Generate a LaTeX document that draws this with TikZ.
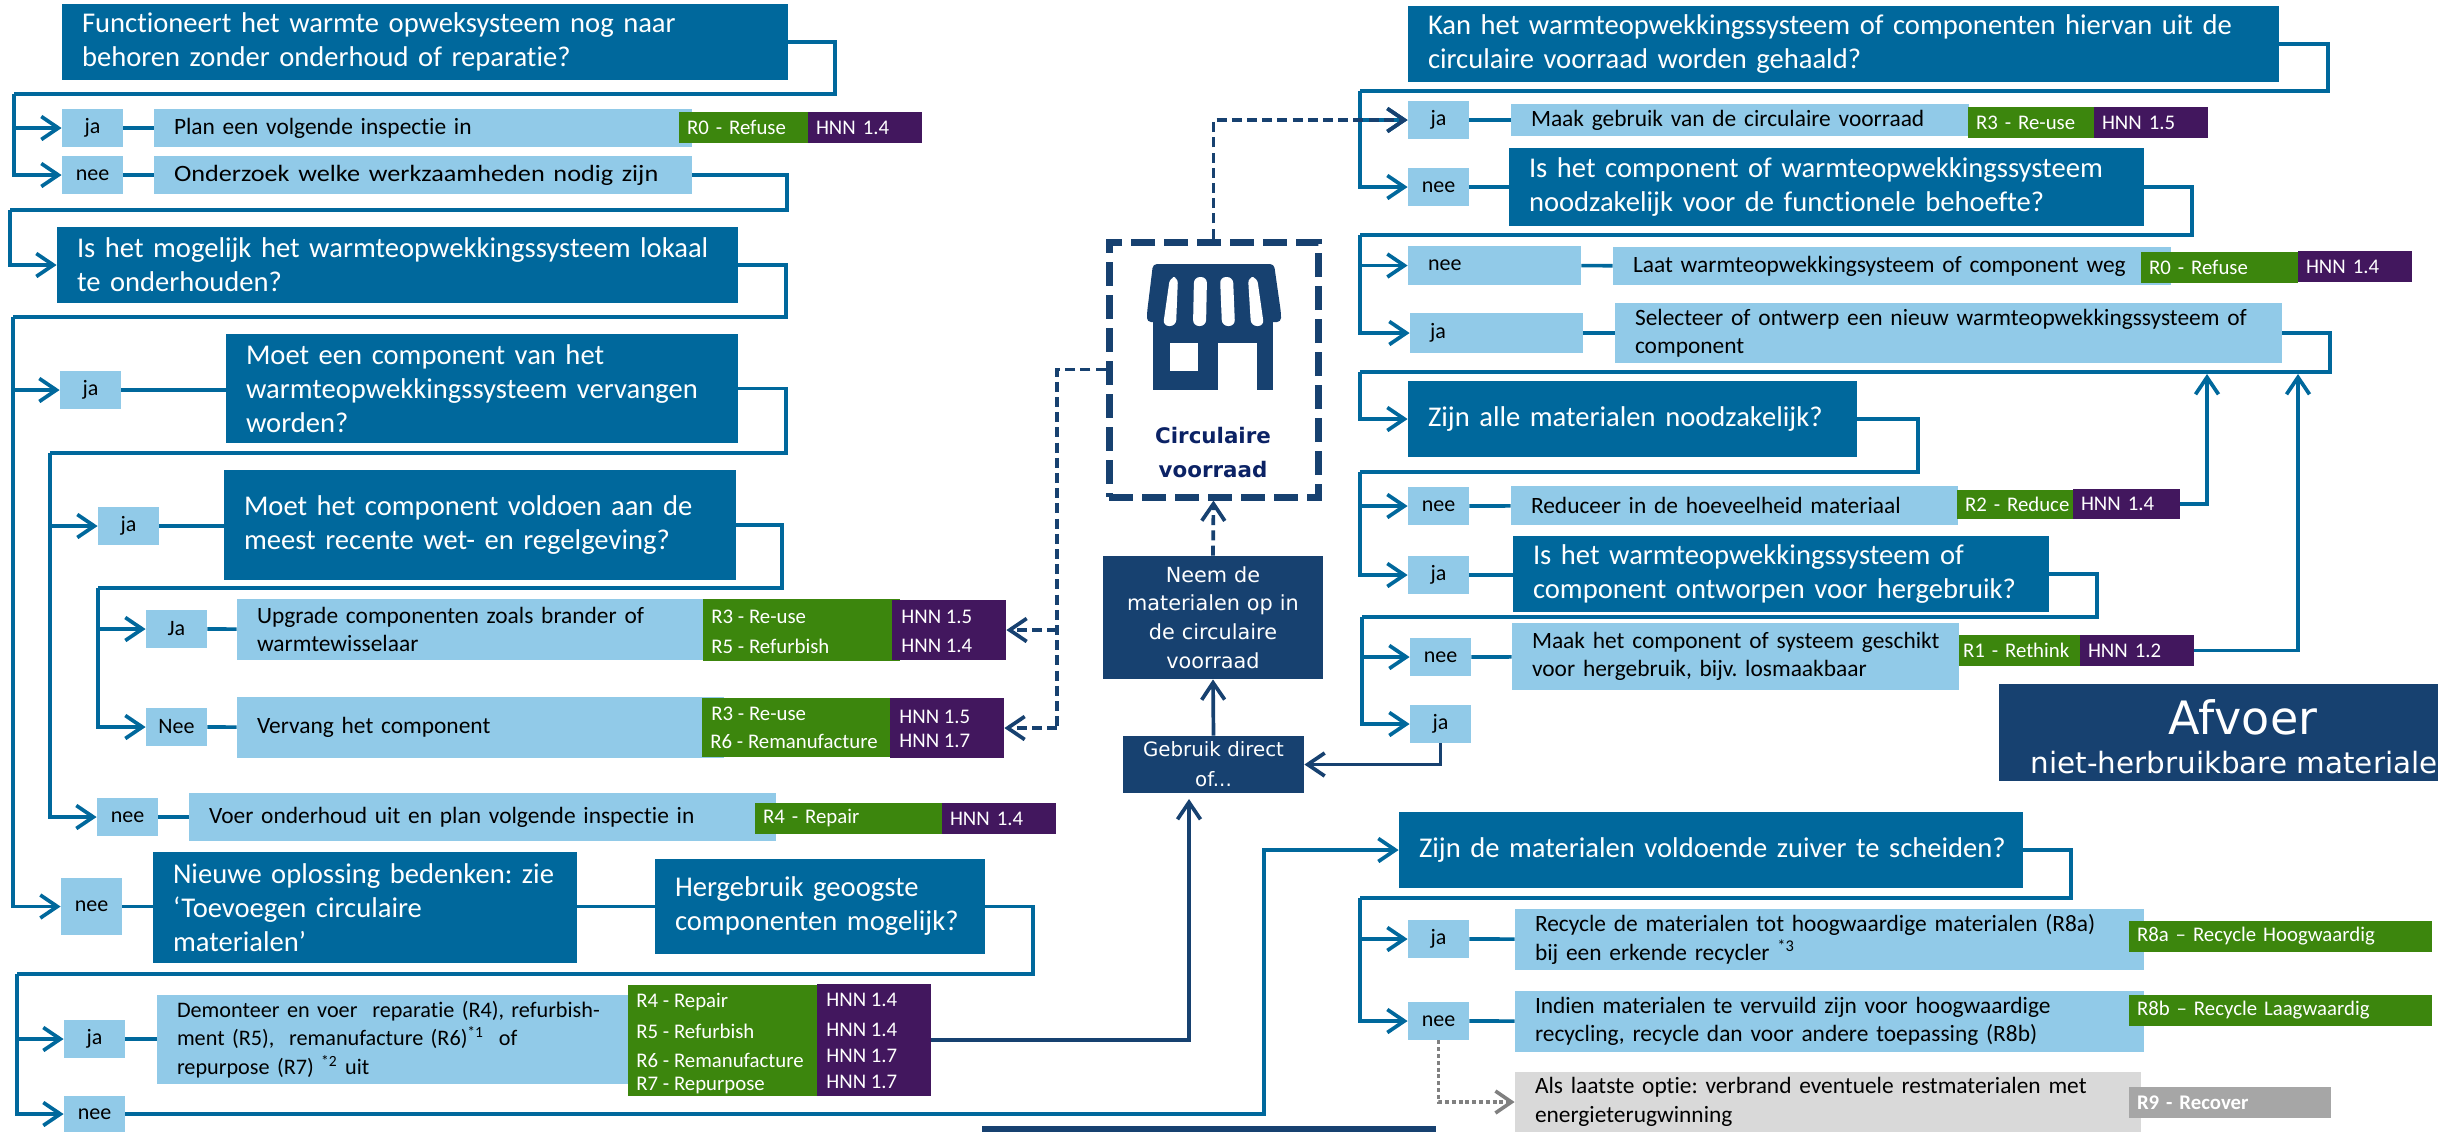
\documentclass[tikz,border=0pt]{standalone}
\usepackage{fontspec}
\usepackage{graphicx}
\usetikzlibrary{arrows.meta}
\setmainfont{Carlito}[Ligatures={NoCommon,TeX}]
\newfontfamily\djf{DejaVu Sans}
\definecolor{cblue}{HTML}{00689C}
\definecolor{clight}{HTML}{91CAE8}
\definecolor{cgreen}{HTML}{3C860D}
\definecolor{cpurple}{HTML}{42175E}
\definecolor{cdark}{HTML}{174170}
\definecolor{cgray}{HTML}{D9D9D9}
\definecolor{cgrayt}{HTML}{A6A6A6}
\definecolor{cgrayl}{HTML}{808080}
\definecolor{cnavy}{HTML}{0B2265}
\tikzset{
  bxbase/.style={rectangle,inner sep=0pt,align=left,anchor=center},
  qbox/.style={bxbase,fill=cblue,text=white,font=\fontsize{14.3}{17}\selectfont\frenchspacing},
  abox/.style={bxbase,fill=clight,text=black,font=\fontsize{11.7}{14.2}\selectfont\frenchspacing},
  lab/.style={bxbase,fill=clight,text=black,align=center,font=\fontsize{11}{13}\selectfont},
  labw/.style={bxbase,fill=clight,text=black,font=\fontsize{11}{13}\selectfont},
  gtag/.style={bxbase,fill=cgreen,text=white,font=\fontsize{10.4}{12}\selectfont},
  ptag/.style={bxbase,fill=cpurple,text=white,font=\fontsize{10.4}{12}\selectfont},
  rtag/.style={bxbase,fill=cgrayt,text=white,font=\fontsize{10.4}{12}\selectfont\bfseries},
  gbox/.style={bxbase,fill=cgray,text=black,font=\fontsize{11.7}{14.2}\selectfont\frenchspacing},
  tagtxt/.style={text=white,inner sep=0pt,anchor=west,font=\fontsize{10.4}{12}\selectfont},
  dkbox/.style={bxbase,fill=cdark,text=white,align=center,font=\djf\fontsize{10.4}{14.4}\selectfont},
  fl/.style={draw=cblue,line width=1.85pt,line join=miter},
  fd/.style={draw=cdark,line width=1.85pt},
  fda/.style={draw=cdark,line width=1.85pt,dash pattern=on 5pt off 2.6pt},
  fg/.style={draw=cgrayl,line width=1.6pt,dash pattern=on 2pt off 1.4pt},
  tipa/.style={-{Straight Barb[length=8.5pt,width=11.5pt,line width=1.85pt]}},
}
\newcommand{\bx}[7][20]{%
  \pgfmathsetmacro{\bw}{(#5-#3)*0.5}%
  \pgfmathsetmacro{\bh}{(#6-#4)*0.5}%
  \pgfmathsetmacro{\bt}{(#5-#3-2*#1)*0.5}%
  \pgfmathsetmacro{\bcx}{(#3+#5)/2}%
  \pgfmathsetmacro{\bcy}{(#4+#6)/2}%
  \node[#7,minimum width=\bw pt,minimum height=\bh pt,text width=\bt pt] (#2) at (\bcx,\bcy)}
\newcommand{\tx}[5]{\node[#4] (#1) at (#2,#3) {#5};}
\begin{document}
\begin{tikzpicture}[x=0.5pt,y=-0.5pt]
\useasboundingbox (0,0) rectangle (2438,1132);
% ---- left column
\bx{q1}{62}{4}{788}{80}{qbox}{Functioneert het warmte opweksysteem nog naar\\behoren zonder onderhoud of reparatie?};
\bx[0]{jaA}{62}{109}{123}{147}{lab}{ja};
\bx{plan}{154}{109}{692}{147}{abox}{Plan een volgende inspectie in};
\bx[8]{tR0}{679}{112}{808}{143}{gtag}{R0 - Refuse};
\bx[8]{hA}{808}{112}{922}{143}{ptag}{HNN 1.4};
\bx[0]{neeA}{62}{156}{123}{194}{lab}{nee};
\bx{onder}{154}{156}{692}{194}{abox}{\scalebox{1.12}[1]{Onderzoek welke werkzaamheden nodig zijn}};
\bx{q2}{57}{227}{738}{303}{qbox}{Is het mogelijk het warmteopwekkingssysteem lokaal\\te onderhouden?};
\bx[0]{jaB}{60}{371}{121}{409}{lab}{ja};
\bx{q3}{226}{334}{738}{443}{qbox}{Moet een component van het\\warmteopwekkingssysteem vervangen\\worden?};
\bx[0]{jaC}{98}{507}{159}{545}{lab}{ja};
\bx{q4}{224}{470}{736}{580}{qbox}{Moet het component voldoen aan de\\meest recente wet- en regelgeving?};
\bx[0]{jaD}{146}{610}{207}{648}{lab}{Ja};
\bx{upg}{237}{599}{720}{660}{abox}{Upgrade componenten zoals brander of\\warmtewisselaar};
\bx[0]{tUpg}{703}{599}{900}{661}{gtag}{};
\bx[0]{hUpg}{892}{600}{1006}{660}{ptag}{};
\tx{t1}{711}{616.5}{tagtxt}{R3 - Re-use}
\tx{t2}{711}{646.5}{tagtxt}{R5 - Refurbish}
\tx{t3}{901}{616.5}{tagtxt}{HNN 1.5}
\tx{t4}{901}{646}{tagtxt}{HNN 1.4}
\bx[0]{neeD}{146}{708}{207}{746}{lab}{Nee};
\bx{verv}{237}{697}{724}{758}{abox}{Vervang het component};
\bx[0]{tVer}{702}{698}{890}{757}{gtag}{};
\bx[0]{hVer}{890}{698}{1004}{758}{ptag}{};
\tx{t5}{711}{714}{tagtxt}{R3 - Re-use}
\tx{t6}{710}{741}{tagtxt}{R6 - Remanufacture}
\tx{t7}{899}{717}{tagtxt}{HNN 1.5}
\tx{t8}{899}{741}{tagtxt}{HNN 1.7}
\bx[0]{neeC}{97}{798}{158}{836}{lab}{nee};
\bx{voer}{189}{793}{776}{841}{abox}{Voer onderhoud uit en plan volgende inspectie in};
\bx[8]{tVoer}{755}{803}{942}{834}{gtag}{R4 - Repair};
\bx[8]{hVoer}{942}{803}{1056}{834}{ptag}{HNN 1.4};
\bx[0]{neeB}{61}{878}{122}{935}{lab}{nee};
\bx{q5}{153}{852}{577}{963}{qbox}{Nieuwe oplossing bedenken: zie\\‘Toevoegen circulaire\\materialen’};
\bx{q6}{655}{859}{985}{954}{qbox}{Hergebruik geoogste\\componenten mogelijk?};
\bx[0]{jaE}{64}{1020}{125}{1058}{lab}{ja};
\bx{dem}{157}{995}{640}{1084}{abox,font=\fontsize{11.1}{14.2}\selectfont\frenchspacing}{Demonteer en voer\ \ reparatie (R4), refurbish-\\ment (R5),\ \ remanufacture (R6)\textsuperscript{*1}\ \ of\\repurpose (R7) \textsuperscript{*2} uit};
\bx[0]{tDem}{628}{985}{817}{1096}{gtag}{};
\bx[0]{hDem}{817}{984}{931}{1096}{ptag}{};
\tx{t9}{636}{1002}{tagtxt}{R4 - Repair}
\tx{t10}{636}{1031}{tagtxt}{R5 - Refurbish}
\tx{t11}{636}{1060.5}{tagtxt}{R6 - Remanufacture}
\tx{t12}{636}{1085}{tagtxt}{R7 - Repurpose}
\tx{t13}{826}{1000}{tagtxt}{HNN 1.4}
\tx{t14}{826}{1029.5}{tagtxt}{HNN 1.4}
\tx{t15}{826}{1056}{tagtxt}{HNN 1.7}
\tx{t16}{826}{1082}{tagtxt}{HNN 1.7}
\bx[0]{neeE}{64}{1096}{125}{1132}{lab}{nee};
\bx[0]{botbar}{982}{1126}{1436}{1132}{bxbase,fill=cdark}{};
% ---- centre
\node[rectangle,draw=cdark,line width=3.5pt,dash pattern=on 12pt off 4.5pt,minimum width=104.5pt,minimum height=127.5pt,inner sep=0pt] (store) at (1213.5,369.5) {};
\bx[0]{neem}{1103}{556}{1323}{679}{dkbox}{Neem de\\materialen op in\\de circulaire\\voorraad};
\bx[0]{gebruik}{1123}{736}{1304}{793}{dkbox,font=\djf\fontsize{9.9}{15}\selectfont}{Gebruik direct\\of...};
\node[inner sep=0pt,align=center,text=cnavy,font=\djf\bfseries\fontsize{10.7}{17}\selectfont] (circ) at (1213,453) {Circulaire\\voorraad};
% store icon
\fill[cdark,rounded corners=2pt] (1153,264) -- (1274,264) -- (1281,313) -- (1281,322) -- (1147,322) -- (1147,313) -- cycle;
\fill[cdark] (1153,320) rectangle (1273,390);
\fill[white] (1170,343) rectangle (1198,371);
\fill[white] (1218,343) rectangle (1257,390);
\foreach \a/\b/\c/\d in {1170/1178/1163/1176,1194/1207/1193/1206,1220/1233/1222/1235,1248/1257/1251/1264}{
  \fill[white,rounded corners=3pt] (\a,277) -- (\b,277) -- (\d,326) -- (\c,326) -- cycle;
}
% ---- right column
\bx{q7}{1408}{6}{2279}{82}{qbox}{Kan het warmteopwekkingssysteem of componenten hiervan uit de\\circulaire voorraad worden gehaald?};
\bx[0]{jaF}{1408}{101}{1469}{139}{lab}{ja};
\bx{maak}{1511}{104}{1969}{136}{abox}{Maak gebruik van de circulaire voorraad};
\bx[8]{tMaak}{1968}{107}{2094}{138}{gtag}{R3 - Re-use};
\bx[8]{hMaak}{2094}{107}{2208}{138}{ptag}{HNN 1.5};
\bx[0]{neeF}{1408}{168}{1469}{206}{lab}{nee};
\bx{q8}{1509}{148}{2144}{226}{qbox}{Is het component of warmteopwekkingssysteem\\noodzakelijk voor de functionele behoefte?};
\bx{neeG}{1408}{246}{1581}{285}{labw}{nee};
\bx{laat}{1613}{247}{2171}{285}{abox}{Laat warmteopwekkingsysteem of component weg};
\bx[8]{tLaat}{2141}{252}{2298}{283}{gtag}{R0 - Refuse};
\bx[8]{hLaat}{2298}{251}{2412}{282}{ptag}{HNN 1.4};
\bx{jaG}{1410}{313}{1583}{353}{labw}{ja};
\bx{sel}{1615}{303}{2282}{363}{abox}{Selecteer of ontwerp een nieuw warmteopwekkingssysteem of\\component};
\bx{q9}{1408}{381}{1857}{457}{qbox}{Zijn alle materialen noodzakelijk?};
\bx[0]{neeH}{1408}{487}{1469}{525}{lab}{nee};
\bx{red}{1511}{486}{1958}{525}{abox}{Reduceer in de hoeveelheid materiaal};
\bx[8]{tRed}{1957}{490}{2073}{519}{gtag}{\mbox{R2 - Reduce}};
\bx[8]{hRed}{2073}{489}{2180}{519}{ptag}{HNN 1.4};
\bx[0]{jaH}{1408}{556}{1469}{594}{lab}{ja};
\bx{q10}{1513}{536}{2049}{612}{qbox}{Is het warmteopwekkingssysteem of\\component ontworpen voor hergebruik?};
\bx[0]{neeI}{1410}{638}{1471}{676}{lab}{nee};
\bx{geschikt}{1512}{623}{1959}{690}{abox}{\mbox{Maak het component of systeem geschikt}\\voor hergebruik, bijv. losmaakbaar};
\bx[4]{tGes}{1959}{635}{2080}{666}{gtag}{\mbox{R1 - Rethink}};
\bx[8]{hGes}{2080}{635}{2194}{666}{ptag}{HNN 1.2};
\bx[0]{jaI}{1410}{705}{1471}{743}{lab}{ja};
\bx[0]{afv}{1999}{684}{2438}{781}{bxbase,fill=cdark}{};
\node[inner sep=0pt,text=white,font=\djf\fontsize{23}{26}\selectfont] (afvA) at (2243,717) {Afvoer};
\node[inner sep=0pt,anchor=east,text=white,font=\djf\fontsize{14.7}{16}\selectfont] (afvB) at (2438,763) {niet-herbruikbare materiale};
\bx{q11}{1399}{812}{2023}{888}{qbox}{\mbox{Zijn de materialen voldoende zuiver te scheiden?}};
\bx[0]{jaJ}{1408}{920}{1469}{958}{lab}{ja};
\bx{rec}{1515}{909}{2144}{970}{abox}{\mbox{Recycle de materialen tot hoogwaardige materialen (R8a)}\\bij een erkende recycler \textsuperscript{*3}};
\bx[8]{t8a}{2129}{921}{2432}{952}{gtag}{R8a – Recycle Hoogwaardig};
\bx[0]{neeJ}{1408}{1002}{1469}{1040}{lab}{nee};
\bx{ind}{1515}{991}{2144}{1052}{abox}{Indien materialen te vervuild zijn voor hoogwaardige\\recycling, recycle dan voor andere toepassing (R8b)};
\bx[8]{t8b}{2129}{995}{2432}{1026}{gtag}{R8b – Recycle Laagwaardig};
\bx{verbr}{1515}{1072}{2141}{1132}{gbox}{Als laatste optie: verbrand eventuele restmaterialen met\\energieterugwinning};
\bx[8]{t9r}{2129}{1087}{2331}{1118}{rtag}{R9 - Recover};
% ---- trunk coordinates
\coordinate (a1) at (14,94);
\coordinate (a2) at (10,210);
\coordinate (a3) at (13,317);
\coordinate (a4) at (50,453);
\coordinate (a5) at (98,588);
\coordinate (a6) at (17,974);
\coordinate (b1) at (1360,91);
\coordinate (b2) at (1360,235);
\coordinate (b3) at (1360,372);
\coordinate (b4) at (1360,472);
\coordinate (b5) at (1362,617);
\coordinate (b6) at (1360,898);
% ---- left connectors
\draw[fl] (q1.east) -| (835,94) -- (a1);
\draw[fl,tipa] (a1) |- (jaA);
\draw[fl,tipa] (a1) |- (neeA);
\draw[fl] (jaA) -- (plan);
\draw[fl] (neeA) -- (onder);
\draw[fl] (onder.east) -| (787,210) -- (a2);
\draw[fl,tipa] (a2) |- (q2);
\draw[fl] (q2.east) -| (786,317) -- (a3);
\draw[fl,tipa] (a3) |- (jaB);
\draw[fl,tipa] (a3) |- (neeB);
\draw[fl] (jaB.east) -- (q3.west |- jaB.east);
\draw[fl] (q3.east) -| (786,453) -- (a4);
\draw[fl,tipa] (a4) |- (jaC);
\draw[fl,tipa] (a4) |- (neeC);
\draw[fl] (jaC.east) -- (q4.west |- jaC.east);
\draw[fl] (q4.east) -| (782,588) -- (a5);
\draw[fl,tipa] (a5) |- (jaD);
\draw[fl,tipa] (a5) |- (neeD);
\draw[fl] (jaD) -- (upg);
\draw[fl] (neeD) -- (verv);
\draw[fl] (neeC) -- (voer);
\draw[fl] (neeB.east) -- (q5.west |- neeB.east);
\draw[fl] (q5.east |- q6.west) -- (q6.west);
\draw[fl] (q6.east) -| (1033,974) -- (a6);
\draw[fl,tipa] (a6) |- (jaE);
\draw[fl,tipa] (a6) |- (neeE);
\draw[fl] (jaE.east) -- (dem.west |- jaE.east);
\draw[fl,tipa] (neeE.east) -| (1264,850) -- (q11.west);
\draw[fd,tipa] (hDem.east) -| (1189,799);
% ---- centre connectors
\draw[fda,tipa] (neem.north) -- (store.south);
\draw[fd,tipa] (gebruik.north) -- (neem.south);
\draw[fd,tipa] (jaI.south) |- (gebruik.east);
\coordinate (d1) at (1057,630);
\coordinate (d2) at (1057,728);
\draw[fda] (store.west) -| (d2);
\draw[fda,tipa] (d1) -- (hUpg.east);
\draw[fda,tipa] (d2) -- (hVer.east);
% ---- right connectors
\draw[fl] (q7.east) -| (2328,91) -- (b1);
\draw[fl,tipa] (b1) |- (neeF);
\draw[fl,tipa] (b1) |- (jaF);
\draw[fda,tipa] (store.north) |- (jaF);
\draw[fl] (jaF) -- (maak);
\draw[fl] (neeF) -- (q8.west |- neeF);
\draw[fl] (q8.east) -| (2192,235) -- (b2);
\draw[fl,tipa] (b2) |- (neeG);
\draw[fl,tipa] (b2) |- (jaG);
\draw[fl] (neeG) -- (laat);
\draw[fl] (jaG) -- (sel);
\draw[fl] (sel.east) -| (2330,372) -- (b3);
\draw[fl,tipa] (b3) |- (q9);
\draw[fl] (q9.east) -| (1918,472) -- (b4);
\draw[fl,tipa] (b4) |- (neeH);
\draw[fl,tipa] (b4) |- (jaH);
\draw[fl] (neeH) -- (red);
\draw[fl] (jaH) -- (q10.west |- jaH);
\draw[fl] (q10.east) -| (2097,617) -- (b5);
\draw[fl,tipa] (b5) |- (neeI);
\draw[fl,tipa] (b5) |- (jaI);
\draw[fl] (neeI) -- (geschikt);
\draw[fl,tipa] (hRed.east) -| (2207,374);
\draw[fl,tipa] (hGes.east) -| (2298,374);
\draw[fl] (q11.east) -| (2071,898) -- (b6);
\draw[fl,tipa] (b6) |- (jaJ);
\draw[fl,tipa] (b6) |- (neeJ);
\draw[fl] (jaJ) -- (rec);
\draw[fl] (neeJ) -- (ind);
\draw[fg,draw=cgrayl,-{Straight Barb[length=8pt,width=11pt,line width=1.8pt,color=cgrayl]}] (neeJ.south) |- (verbr.west);
\end{tikzpicture}
\end{document}
